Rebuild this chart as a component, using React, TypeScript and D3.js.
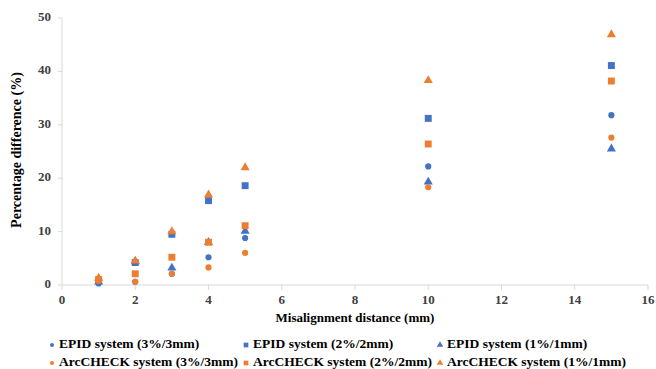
import React, {useRef, useEffect} from 'react';
import * as d3 from 'd3';

// misalignment distances (mm)
const distances = [1, 2, 3, 4, 5, 10, 15];

// percentage difference (%) per series
const epid3 = [0.3, 0.6, 2.1, 5.2, 8.8, 22.2, 31.8];
const epid2 = [0.9, 4.2, 9.5, 15.8, 18.6, 31.2, 41.1];
const epid1 = [0.6, 4.4, 3.2, 8.0, 10.1, 19.3, 25.5];
const arc3 = [0.8, 0.6, 2.1, 3.3, 6.0, 18.3, 27.6];
const arc2 = [1.0, 2.1, 5.2, 8.0, 11.1, 26.4, 38.2];
const arc1 = [1.3, 4.5, 10.0, 16.9, 22.0, 38.3, 46.9];

const seriesNames = [
  'EPID system (3%/3mm)', 'EPID system (2%/2mm)', 'EPID system (1%/1mm)',
  'ArcCHECK system (3%/3mm)', 'ArcCHECK system (2%/2mm)', 'ArcCHECK system (1%/1mm)'
];
const seriesValues = [epid3, epid2, epid1, arc3, arc2, arc1];

const xTicks = [0, 2, 4, 6, 8, 10, 12, 14, 16];
const yTicks = [0, 10, 20, 30, 40, 50];

const BLUE = '#4472C4';
const ORANGE = '#ED7D31';
const FONT = '"Liberation Serif", "Times New Roman", serif';

export default function App() {
  const ref = useRef<SVGSVGElement>(null);

  useEffect(() => {
    const svg = d3.select(ref.current);
    svg.selectAll('*').remove();

    const left = 62, right = 648, top = 18, bottom = 285;
    const x = d3.scaleLinear().domain([0, 16]).range([left, right]);
    const y = d3.scaleLinear().domain([0, 50]).range([bottom, top]);

    const colors = [BLUE, BLUE, BLUE, ORANGE, ORANGE, ORANGE];
    const shapes = [d3.symbolCircle, d3.symbolSquare, d3.symbolTriangle,
      d3.symbolCircle, d3.symbolSquare, d3.symbolTriangle];
    const sizes = [30, 48, 36, 30, 48, 36];
    const legendSizes = [13, 22, 18, 13, 22, 18];

    // axes
    const axisColor = '#d9d9d9';
    svg.append('line')
      .attr('x1', left).attr('x2', right)
      .attr('y1', bottom).attr('y2', bottom)
      .attr('stroke', axisColor);
    svg.append('line')
      .attr('x1', left).attr('x2', left)
      .attr('y1', top).attr('y2', bottom)
      .attr('stroke', axisColor);

    // x ticks
    const xg = svg.append('g');
    xTicks.forEach(t => {
      xg.append('line')
        .attr('x1', x(t)).attr('x2', x(t))
        .attr('y1', bottom).attr('y2', bottom + 5)
        .attr('stroke', axisColor);
      xg.append('text')
        .attr('x', x(t)).attr('y', 301)
        .attr('text-anchor', 'middle')
        .attr('dominant-baseline', 'middle')
        .attr('font-family', FONT).attr('font-weight', 'bold')
        .attr('font-size', 13).attr('fill', '#404040')
        .text(t);
    });

    // y ticks
    const yg = svg.append('g');
    yTicks.forEach(t => {
      yg.append('line')
        .attr('x1', left - 4).attr('x2', left)
        .attr('y1', y(t)).attr('y2', y(t))
        .attr('stroke', axisColor);
      yg.append('text')
        .attr('x', 51).attr('y', y(t))
        .attr('text-anchor', 'end')
        .attr('dominant-baseline', 'middle')
        .attr('font-family', FONT).attr('font-weight', 'bold')
        .attr('font-size', 13).attr('fill', '#404040')
        .text(t);
    });

    // axis titles
    svg.append('text')
      .attr('x', (left + right) / 2).attr('y', 319)
      .attr('text-anchor', 'middle')
      .attr('dominant-baseline', 'middle')
      .attr('font-family', FONT).attr('font-weight', 'bold')
      .attr('font-size', 13).attr('fill', '#000')
      .text('Misalignment distance (mm)');
    svg.append('text')
      .attr('transform', `translate(18,150) rotate(-90)`)
      .attr('text-anchor', 'middle')
      .attr('dominant-baseline', 'middle')
      .attr('font-family', FONT).attr('font-weight', 'bold')
      .attr('font-size', 14).attr('fill', '#000')
      .text('Percentage difference (%)');

    // points
    seriesValues.forEach((vals, s) => {
      const sym = d3.symbol().type(shapes[s]).size(sizes[s]);
      svg.append('g').selectAll('path')
        .data(vals)
        .enter()
        .append('path')
        .attr('d', sym)
        .attr('transform', (d, i) => `translate(${x(distances[i])},${y(d)})`)
        .attr('fill', colors[s]);
    });

    // legend
    const colX = [52, 246, 440];
    const rowY = [345, 363];
    seriesNames.forEach((name, s) => {
      const cx = colX[s % 3];
      const cy = rowY[Math.floor(s / 3)];
      const sym = d3.symbol().type(shapes[s]).size(legendSizes[s]);
      svg.append('path')
        .attr('d', sym)
        .attr('transform', `translate(${cx},${cy})`)
        .attr('fill', colors[s]);
      svg.append('text')
        .attr('x', cx + 7).attr('y', cy)
        .attr('dominant-baseline', 'middle')
        .attr('font-family', FONT).attr('font-weight', 'bold')
        .attr('font-size', 13.5).attr('fill', '#000')
        .text(name);
    });
  }, []);

  return (
    <svg ref={ref} width={656} height={369}
         style={{position: 'absolute', left: 0, top: 0, background: '#fff'}}/>
  );
}
